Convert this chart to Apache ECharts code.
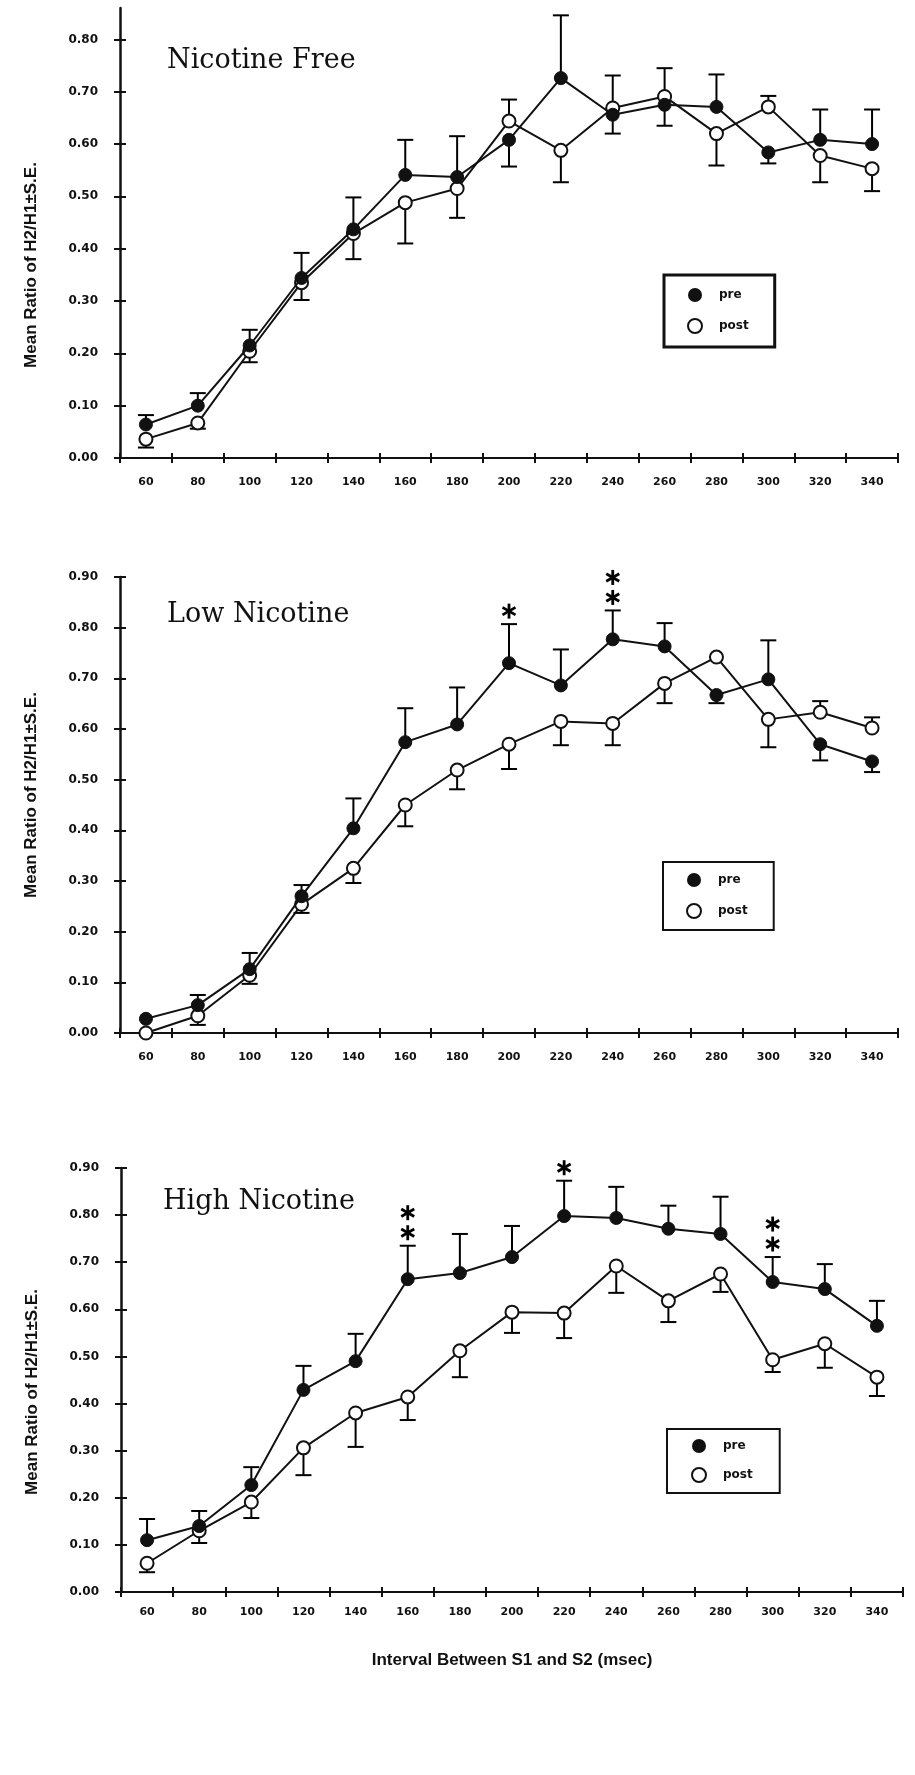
<!DOCTYPE html>
<html>
<head>
<meta charset="utf-8">
<title>H2/H1 ratio</title>
<script src="https://cdn.jsdelivr.net/npm/echarts@6/dist/echarts.min.js"></script>
<style>
  html, body { margin: 0; padding: 0; background: #fff; }
  #chart { width: 915px; height: 1775px; }
</style>
</head>
<body>
<div id="chart"></div>
<script>
// interval between S1 and S2 (msec)
var intervals = ['60', '80', '100', '120', '140', '160', '180', '200', '220', '240', '260', '280', '300', '320', '340'];

// Nicotine Free
var freePre     = [0.064, 0.100, 0.215, 0.344, 0.437, 0.541, 0.537, 0.608, 0.726, 0.656, 0.675, 0.671, 0.584, 0.608, 0.600];
var freePreErr  = [0.082, 0.124, 0.245, 0.392, 0.498, 0.608, 0.615, 0.557, 0.846, 0.620, 0.635, 0.733, 0.563, 0.666, 0.666];
var freePost    = [0.036, 0.067, 0.204, 0.335, 0.429, 0.488, 0.515, 0.644, 0.588, 0.669, 0.691, 0.620, 0.671, 0.578, 0.553];
var freePostErr = [0.020, 0.056, 0.183, 0.302, 0.380, 0.410, 0.459, 0.685, 0.527, 0.731, 0.745, 0.559, 0.692, 0.527, 0.510];

// Low Nicotine
var lowPre     = [0.028, 0.055, 0.126, 0.270, 0.404, 0.574, 0.609, 0.730, 0.686, 0.777, 0.763, 0.667, 0.698, 0.570, 0.536];
var lowPreErr  = [null, 0.075, 0.158, 0.292, 0.463, 0.641, 0.682, 0.807, 0.757, 0.834, 0.809, 0.651, 0.775, 0.538, 0.515];
var lowPost    = [0.000, 0.034, 0.114, 0.254, 0.325, 0.450, 0.519, 0.570, 0.615, 0.611, 0.690, 0.742, 0.619, 0.633, 0.602];
var lowPostErr = [null, 0.016, 0.097, 0.237, 0.296, 0.408, 0.481, 0.521, 0.568, 0.568, 0.651, null, 0.564, 0.655, 0.623];

// High Nicotine
var highPre     = [0.110, 0.140, 0.227, 0.429, 0.490, 0.664, 0.677, 0.711, 0.798, 0.794, 0.771, 0.760, 0.658, 0.643, 0.565];
var highPreErr  = [0.155, 0.172, 0.265, 0.480, 0.548, 0.735, 0.760, 0.777, 0.873, 0.860, 0.820, 0.839, 0.711, 0.696, 0.618];
var highPost    = [0.061, 0.130, 0.191, 0.306, 0.380, 0.414, 0.512, 0.594, 0.592, 0.692, 0.618, 0.675, 0.493, 0.527, 0.456];
var highPostErr = [0.042, 0.104, 0.157, 0.248, 0.308, 0.365, 0.456, 0.550, 0.539, 0.635, 0.573, 0.637, 0.467, 0.476, 0.416];

// significance marks: [category index, number of stars]
var lowStars  = [[7, 1], [9, 2]];
var highStars = [[5, 2], [8, 1], [12, 2]];

// y axis ticks
var yTicksFree = [0, 0.1, 0.2, 0.3, 0.4, 0.5, 0.6, 0.7, 0.8];
var yTicks     = [0, 0.1, 0.2, 0.3, 0.4, 0.5, 0.6, 0.7, 0.8, 0.9];

var panelTitles = ['Nicotine Free', 'Low Nicotine', 'High Nicotine'];
var yName = 'Mean Ratio of H2/H1\u00b1S.E.';
var xName = 'Interval Between S1 and S2 (msec)';

var chart = echarts.init(document.getElementById('chart'));

function renderErr(params, api) {
  var p0 = api.coord([api.value(0), api.value(1)]);
  var p1 = api.coord([api.value(0), api.value(2)]);
  return {
    type: 'group',
    children: [
      { type: 'line', shape: { x1: p0[0], y1: p0[1], x2: p1[0], y2: p1[1] }, style: { stroke: '#000', lineWidth: 2 } },
      { type: 'line', shape: { x1: p1[0] - 8, y1: p1[1], x2: p1[0] + 8, y2: p1[1] }, style: { stroke: '#000', lineWidth: 2 } }
    ]
  };
}

// six-spoke asterisks stacked above the error bar end
function renderStars(params, api) {
  var p = api.coord([api.value(0), api.value(1)]);
  var n = api.value(2);
  var kids = [];
  for (var k = 0; k < n; k++) {
    var cy = p[1] - 13 - k * 20;
    var r = 7.5;
    [90, 30, 150].forEach(function (deg) {
      var a = deg * Math.PI / 180;
      kids.push({
        type: 'line',
        shape: { x1: p[0] - r * Math.cos(a), y1: cy - r * Math.sin(a), x2: p[0] + r * Math.cos(a), y2: cy + r * Math.sin(a) },
        style: { stroke: '#000', lineWidth: 2.8 }
      });
    });
  }
  return { type: 'group', children: kids };
}

function errData(vals, ends) {
  var out = [];
  for (var i = 0; i < vals.length; i++) {
    if (ends[i] != null) out.push([i, vals[i], ends[i]]);
  }
  return out;
}

function starData(stars, ends) {
  return stars.map(function (s) { return [s[0], ends[s[0]], s[1]]; });
}

var panels = [
  { pre: freePre, preErr: freePreErr, post: freePost, postErr: freePostErr, stars: [] },
  { pre: lowPre, preErr: lowPreErr, post: lowPost, postErr: lowPostErr, stars: lowStars },
  { pre: highPre, preErr: highPreErr, post: highPost, postErr: highPostErr, stars: highStars }
];

var grids = [
  { left: 120, width: 778, top: 8, height: 450 },
  { left: 120, width: 778, top: 577, height: 456 },
  { left: 121, width: 782, top: 1168, height: 424 }
];
var yMax = [0.86, 0.9, 0.9];
var labelMargin = [19, 19, 15];
var yNamePad = [[0, 64, 0, 0], [0, 0, 0, 20], [0, 24, 0, 0]];

var tickFont = { fontFamily: 'DejaVu Sans', fontWeight: 'bold', color: '#111' };
var nameFont = { fontFamily: 'Liberation Sans', fontWeight: 'bold', fontSize: 17, color: '#111' };

var xAxes = [], yAxes = [], series = [];
panels.forEach(function (p, i) {
  var ticks = i === 0 ? yTicksFree : yTicks;
  // main axes (index 2*i) carry labels and outward ticks
  xAxes.push({
    type: 'category', gridIndex: i, data: intervals, boundaryGap: true,
    name: i === 2 ? xName : '', nameLocation: 'middle', nameGap: 60, nameTextStyle: nameFont,
    axisLine: { lineStyle: { color: '#111', width: 2 } },
    axisTick: { show: true, length: 5, lineStyle: { color: '#111', width: 2 } },
    axisLabel: Object.assign({ margin: labelMargin[i], fontSize: 11 }, tickFont),
    splitLine: { show: false }
  });
  yAxes.push({
    type: 'value', gridIndex: i, min: 0, max: yMax[i],
    name: yName, nameLocation: 'middle', nameRotate: 90, nameGap: 80,
    nameTextStyle: Object.assign({ padding: yNamePad[i] }, nameFont),
    axisLine: { show: true, lineStyle: { color: '#111', width: 2.5 } },
    axisTick: { show: true, length: 6, customValues: ticks, lineStyle: { color: '#111', width: 2 } },
    axisLabel: Object.assign({
      margin: 22, customValues: ticks, fontSize: 12,
      formatter: function (v) { return v.toFixed(2); }
    }, tickFont),
    splitLine: { show: false }
  });
  // twin axes (index 2*i+1) only add the inward half of each tick
  xAxes.push({
    type: 'category', gridIndex: i, data: intervals, boundaryGap: true, position: 'bottom',
    axisLine: { show: false },
    axisTick: { show: true, inside: true, length: 5, lineStyle: { color: '#111', width: 2 } },
    axisLabel: { show: false }, splitLine: { show: false }
  });
  yAxes.push({
    type: 'value', gridIndex: i, min: 0, max: yMax[i], position: 'left',
    axisLine: { show: false },
    axisTick: { show: true, inside: true, length: 6, customValues: ticks, lineStyle: { color: '#111', width: 2 } },
    axisLabel: { show: false, customValues: ticks }, splitLine: { show: false }
  });

  var xi = 2 * i, yi = 2 * i;
  series.push({
    type: 'custom', name: 'err-pre-' + i, xAxisIndex: xi, yAxisIndex: yi, z: 1,
    renderItem: renderErr, encode: { x: 0, y: [1, 2] }, data: errData(p.pre, p.preErr), silent: true
  });
  series.push({
    type: 'custom', name: 'err-post-' + i, xAxisIndex: xi, yAxisIndex: yi, z: 1,
    renderItem: renderErr, encode: { x: 0, y: [1, 2] }, data: errData(p.post, p.postErr), silent: true
  });
  series.push({
    type: 'line', name: 'pre', xAxisIndex: xi, yAxisIndex: yi, z: 3,
    data: p.pre, symbol: 'circle', symbolSize: 13,
    lineStyle: { color: '#111', width: 2 },
    itemStyle: { color: '#111', borderColor: '#111', borderWidth: 1 }
  });
  series.push({
    type: 'line', name: 'post', xAxisIndex: xi, yAxisIndex: yi, z: 2,
    data: p.post, symbol: 'circle', symbolSize: 13,
    lineStyle: { color: '#111', width: 2 },
    itemStyle: { color: '#fff', borderColor: '#111', borderWidth: 2 }
  });
  if (p.stars.length) {
    series.push({
      type: 'custom', name: 'stars-' + i, xAxisIndex: xi, yAxisIndex: yi, z: 4,
      renderItem: renderStars, encode: { x: 0, y: 1 }, data: starData(p.stars, p.preErr), silent: true
    });
  }
});

var legendItems = [
  { name: 'pre', icon: 'circle', itemStyle: { color: '#111', borderWidth: 0 } },
  { name: 'post', icon: 'circle', itemStyle: { color: '#fff', borderColor: '#111', borderWidth: 2 } }
];
var legendBoxes = [
  { left: 664, top: 275, padding: [13, 26, 13, 23], itemGap: 16, borderWidth: 3 },
  { left: 663, top: 862, padding: [11, 26, 11, 23], itemGap: 16, borderWidth: 2 },
  { left: 667, top: 1429, padding: [10, 27, 10, 24], itemGap: 14, borderWidth: 2 }
];
var legends = legendBoxes.map(function (b) {
  return {
    orient: 'vertical',
    left: b.left, top: b.top, padding: b.padding, itemGap: b.itemGap,
    itemWidth: 14, itemHeight: 14,
    borderColor: '#111', borderWidth: b.borderWidth,
    selectedMode: false,
    data: legendItems,
    textStyle: { fontFamily: 'DejaVu Sans', fontWeight: 'bold', fontSize: 12, color: '#111', padding: [0, 0, 0, 12] }
  };
});

var titles = [
  { left: 167, top: 47 },
  { left: 167, top: 601 },
  { left: 163, top: 1188 }
].map(function (t, i) {
  return {
    text: panelTitles[i], left: t.left, top: t.top, padding: 0,
    textStyle: { fontFamily: 'DejaVu Serif', fontWeight: 'normal', fontSize: 27, color: '#111' }
  };
});

chart.setOption({
  animation: false,
  backgroundColor: '#fff',
  title: titles,
  legend: legends,
  grid: grids,
  xAxis: xAxes,
  yAxis: yAxes,
  series: series
});
</script>
</body>
</html>
